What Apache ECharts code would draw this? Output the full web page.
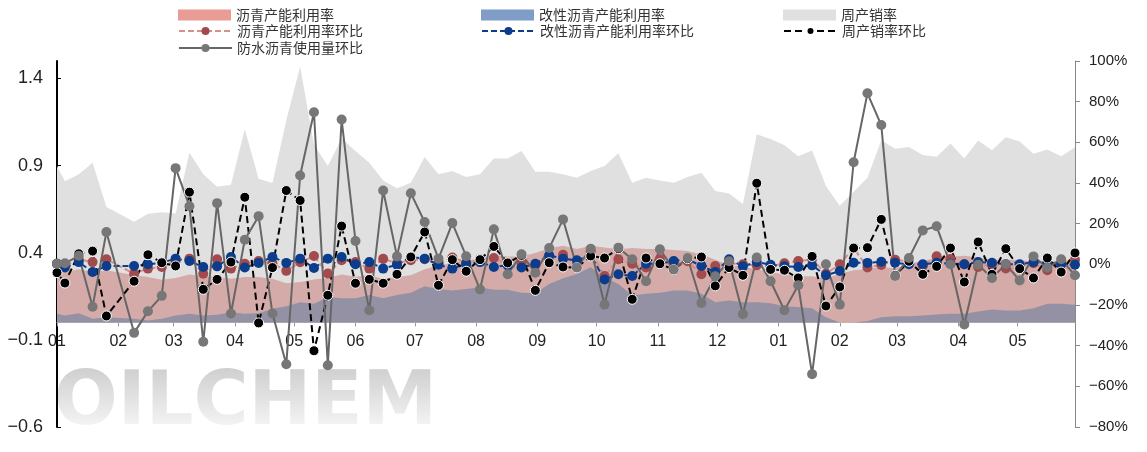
<!DOCTYPE html>
<html><head><meta charset="utf-8">
<script src="https://cdn.jsdelivr.net/npm/echarts@6/dist/echarts.min.js"></script>
<style>html,body{margin:0;padding:0;background:#fff}#c{width:1147px;height:452px}</style>
</head><body><div id="c"></div>
<script>
// ---- data ----
const dates = ['2023-01-01','2023-01-05','2023-01-12','2023-01-19','2023-01-26','2023-02-09','2023-02-16','2023-02-23','2023-03-02','2023-03-09','2023-03-16','2023-03-23','2023-03-30','2023-04-06','2023-04-13','2023-04-20','2023-04-27','2023-05-04','2023-05-11','2023-05-18','2023-05-25','2023-06-01','2023-06-08','2023-06-15','2023-06-22','2023-06-29','2023-07-06','2023-07-13','2023-07-20','2023-07-27','2023-08-03','2023-08-10','2023-08-17','2023-08-24','2023-08-31','2023-09-07','2023-09-14','2023-09-21','2023-09-28','2023-10-05','2023-10-12','2023-10-19','2023-10-26','2023-11-02','2023-11-09','2023-11-16','2023-11-23','2023-11-30','2023-12-07','2023-12-14','2023-12-21','2023-12-28','2024-01-04','2024-01-11','2024-01-18','2024-01-25','2024-02-01','2024-02-08','2024-02-15','2024-02-22','2024-02-29','2024-03-07','2024-03-14','2024-03-21','2024-03-28','2024-04-04','2024-04-11','2024-04-18','2024-04-25','2024-05-02','2024-05-09','2024-05-16','2024-05-23','2024-05-30'];

// 沥青产能利用率 (left axis)
const capUtil = [0.31,0.29,0.305,0.29,0.30,0.27,0.26,0.245,0.255,0.275,0.265,0.26,0.25,0.26,0.26,0.25,0.225,0.232,0.246,0.255,0.275,0.262,0.27,0.25,0.26,0.27,0.305,0.326,0.341,0.36,0.36,0.385,0.378,0.378,0.398,0.425,0.44,0.421,0.44,0.43,0.42,0.427,0.421,0.421,0.415,0.41,0.39,0.36,0.33,0.32,0.305,0.29,0.275,0.265,0.265,0.25,0.28,0.30,0.307,0.32,0.31,0.335,0.354,0.37,0.377,0.383,0.373,0.36,0.36,0.358,0.35,0.35,0.354,0.36];
// 改性沥青产能利用率 (left axis)
const modUtil = [0.05,0.04,0.053,0.021,0.03,0.021,0.011,0.021,0.04,0.05,0.04,0.044,0.059,0.05,0.053,0.078,0.093,0.116,0.107,0.145,0.139,0.139,0.158,0.139,0.158,0.17,0.208,0.192,0.183,0.192,0.202,0.187,0.187,0.17,0.168,0.221,0.253,0.278,0.316,0.259,0.221,0.154,0.164,0.17,0.183,0.183,0.164,0.116,0.126,0.116,0.116,0.11,0.093,0.088,0.082,0.03,0,0,0.008,0.03,0.036,0.036,0.04,0.046,0.05,0.05,0.063,0.074,0.069,0.069,0.082,0.107,0.107,0.101];
// 周产销率 (left axis)
const salesRatio = [0.897,0.81,0.85,0.916,0.662,0.578,0.624,0.632,0.625,0.973,0.85,0.778,0.79,1.108,0.824,0.80,1.16,1.469,1.021,0.897,1.055,0.983,0.916,0.815,0.770,0.802,0.949,0.850,0.869,0.834,0.850,0.941,0.941,0.983,0.865,0.865,0.850,0.830,0.869,0.897,0.970,0.802,0.830,0.815,0.802,0.834,0.859,0.754,0.740,0.680,1.080,1.052,1.017,0.954,0.987,0.783,0.669,0.75,0.83,1.045,0.996,1.007,0.961,0.950,1.026,0.940,1.044,0.988,1.063,1.038,0.968,0.992,0.954,1.005];
// 沥青产能利用率环比 (%, right axis)
const capUtilMoM = [0.3,-0.5,2.5,1.1,2.5,-4.6,-2.1,-1.3,1.6,2.8,-4.6,2.5,-2.1,0.3,1.6,0.5,-3.2,1.0,4.1,-4.5,2.0,1.1,-2.1,2.7,0.6,2.0,2.5,0.5,3.3,1.0,2.5,3.1,0,0.8,-0.5,3.5,4.7,-0.5,6.4,-5.7,2.5,0.3,-1.6,2.5,0,1.5,-4.9,-0.8,0.5,0,-0.5,-1.0,0.5,1.6,2.5,-4.6,0,8.0,-1.5,-0.3,2.2,1.5,-0.8,4.0,2.6,0,-1.3,0.2,-2.0,-2.0,0.5,-2.9,0.5,2.3];
// 改性沥青产能利用率环比 (%)
const modUtilMoM = [0.3,-1.6,1.1,-3.8,-0.8,-0.8,0,0.8,2.8,1.6,-1.3,-1.0,3.6,-1.6,0.7,3.6,0.7,2.8,-1.8,2.8,3.6,0,1.1,-2.1,-0.2,3.6,2.8,-0.2,-2.1,0.3,1.1,-1.3,-0.5,-1.6,0.3,4.4,2.8,2.0,4.4,-7.4,-4.9,-5.7,0.3,0.3,1.6,2.5,-0.8,-3.8,2.5,-1.0,1.1,-0.2,-1.0,-1.3,-0.5,-5.4,-3.3,0.8,0.7,1.3,0.8,0,0,0.8,0.3,0,1.1,0.8,0,0,1.1,0.8,0,-0.2];
// 周产销率环比 (%)
const salesRatioMoM = [-4.1,-9.2,5.2,6.5,-25.4,-8.3,4.7,0.8,-0.8,35.5,-12.3,-7.4,1.1,33.0,-28.8,-1.6,36.3,31.4,-42.5,-15.2,18.8,-9.3,-7.4,-9.3,-4.9,3.6,15.9,-10.3,2.3,-3.4,2.3,8.8,0.7,4.4,-12.8,0.8,-1.3,-1.6,4.1,3.1,7.7,-17.2,3.1,0.3,-2.6,2.8,3.6,-10.6,-1.6,-5.4,39.9,-2.5,-2.9,-6.7,3.9,-20.5,-11.1,8.0,8.2,22.1,-5.4,1.5,-4.9,-1.0,8.0,-8.7,11.0,-4.9,7.7,-2.1,-6.7,3.1,-3.8,5.6];
// 防水沥青使用量环比 (%)
const waterproofMoM = [0.3,0.5,4.2,-20.9,15.9,-33.7,-23.1,-15.5,47.3,28.6,-38.1,30.1,-24.2,12.1,23.7,-24.2,-49.1,43.7,74.8,-49.6,71.2,11.5,-22.6,36.3,3.9,35.0,20.8,2.8,20.3,4.0,-12.3,17.2,-4.9,4.9,-4.1,8.0,22.1,-1.6,7.7,-19.8,8.2,2.5,-8.3,7.4,-2.5,3.1,-19.0,-5.9,1.5,-24.5,3.3,-8.3,-22.6,-10.3,-54.0,0.0,-19.8,50.2,84.1,68.5,-5.7,3.1,16.7,18.7,0.0,-29.6,-0.2,-6.7,0.0,-7.9,3.9,-1.6,2.5,-5.4];

const monthLabels = ['01','02','03','04','05','06','07','08','09','10','11','12'];
const xStart = '2023-01-01', xEnd = '2024-05-30';

// ---- chart ----
const pair = arr => dates.map((d, i) => [d, arr[i]]);
const minus = s => String(s).replace('-', '\u2212');
const chart = echarts.init(document.getElementById('c'));
const txt = {fontSize: 14, color: '#333', fontFamily: '"Noto Sans CJK SC", sans-serif'};
function lg(name, left, top, extra) {
  return Object.assign({left: left, top: top, orient: 'horizontal', itemWidth: 53, itemHeight: 10,
    selectedMode: false, textStyle: txt, data: [name]}, extra || {});
}
const lineSeries = (name, data, lineColor, dot, dash, width, border) => ({
  name: name, type: 'line', yAxisIndex: 1, data: pair(data),
  symbol: 'circle', symbolSize: 10, showSymbol: true, showAllSymbol: true,
  lineStyle: {color: lineColor, width: width, type: dash},
  itemStyle: {color: dot, borderColor: border ? '#fff' : dot, borderWidth: border ? 1 : 0},
  emphasis: {disabled: true}, z: 3
});
const areaSeries = (name, data, color) => ({
  name: name, type: 'line', yAxisIndex: 0, data: pair(data),
  symbol: 'none', showSymbol: false,
  lineStyle: {width: 0, opacity: 0},
  areaStyle: {color: color, opacity: 1},
  itemStyle: {color: color},
  emphasis: {disabled: true}, z: 2
});

// grid geometry
const gTop = 61, gBottom = 25, H = 452;
const leftMin = -0.6, leftMax = 1.5;
const plotH = H - gTop - gBottom;
const zeroOffset = -plotH * (0 - leftMin) / (leftMax - leftMin);

chart.setOption({
  animation: false,
  textStyle: {fontFamily: '"Liberation Sans", Arial, sans-serif'},
  graphic: [{
    type: 'text', left: 54, top: 367, z: -10, silent: true,
    style: {text: 'OILCHEM', font: 'bold 75px "DejaVu Sans"', fill: '#c6c6c6'}
  }, {
    type: 'rect', left: 40, top: 363, z: -9, silent: true,
    shape: {width: 410, height: 72},
    style: {fill: {type: 'linear', x: 0, y: 0, x2: 0, y2: 1,
      colorStops: [{offset: 0, color: 'rgba(255,255,255,0.1)'}, {offset: 1, color: 'rgba(255,255,255,0.9)'}]}}
  }],
  legend: [
    lg({name: '沥青产能利用率', icon: 'rect', itemStyle: {color: '#e99b95'}}, 173, 3, {itemHeight: 11}),
    lg({name: '改性沥青产能利用率', icon: 'rect', itemStyle: {color: '#7f9dc6'}}, 476, 3, {itemHeight: 11}),
    lg({name: '周产销率', icon: 'rect', itemStyle: {color: '#e0e0e0'}}, 778, 3, {itemHeight: 11}),
    lg('沥青产能利用率环比', 173, 19),
    lg('改性沥青产能利用率环比', 476, 19),
    lg('周产销率环比', 778, 19),
    lg('防水沥青使用量环比', 173, 36)
  ],
  grid: {left: 57, right: 72, top: gTop, bottom: gBottom, containLabel: false},
  xAxis: {
    type: 'time', min: xStart, max: xEnd, splitNumber: 17,
    position: 'bottom', offset: zeroOffset,
    axisLine: {onZero: false, lineStyle: {color: '#999', width: 1}},
    axisTick: {show: true, length: 4, lineStyle: {color: '#999'}},
    splitLine: {show: false},
    axisLabel: {fontSize: 16, color: '#222', margin: 11, hideOverlap: false,
      formatter: v => monthLabels[new Date(v).getMonth()]}
  },
  yAxis: [{
    type: 'value', min: leftMin, max: leftMax, interval: 0.5, position: 'left',
    axisLine: {show: true, lineStyle: {color: '#000', width: 2}},
    axisTick: {show: true, inside: true, length: 4, lineStyle: {color: '#000'}},
    splitLine: {show: false},
    axisLabel: {fontSize: 18, color: '#222', margin: 14, showMaxLabel: false,
      formatter: v => minus((Math.round(v * 10) / 10).toFixed(1))}
  }, {
    type: 'value', min: -80, max: 100, interval: 20, position: 'right',
    axisLine: {show: true, lineStyle: {color: '#888', width: 1}},
    axisTick: {show: true, inside: false, length: 5, lineStyle: {color: '#888'}},
    splitLine: {show: false},
    axisLabel: {fontSize: 15, color: '#222', margin: 14, formatter: v => minus(v) + '%'}
  }],
  series: [
    areaSeries('周产销率', salesRatio, '#e0e0e0'),
    areaSeries('沥青产能利用率', capUtil, '#d4aba8'),
    areaSeries('改性沥青产能利用率', modUtil, '#9591a4'),
    lineSeries('沥青产能利用率环比', capUtilMoM, '#d3908d', '#a24a4c', [6, 3], 2, false),
    lineSeries('改性沥青产能利用率环比', modUtilMoM, '#0b3d8c', '#0b3d8c', [6, 3], 2, false),
    lineSeries('周产销率环比', salesRatioMoM, '#000', '#000', [7, 4], 2, true),
    lineSeries('防水沥青使用量环比', waterproofMoM, '#666', '#777', 'solid', 2, false)
  ]
});
</script></body></html>
